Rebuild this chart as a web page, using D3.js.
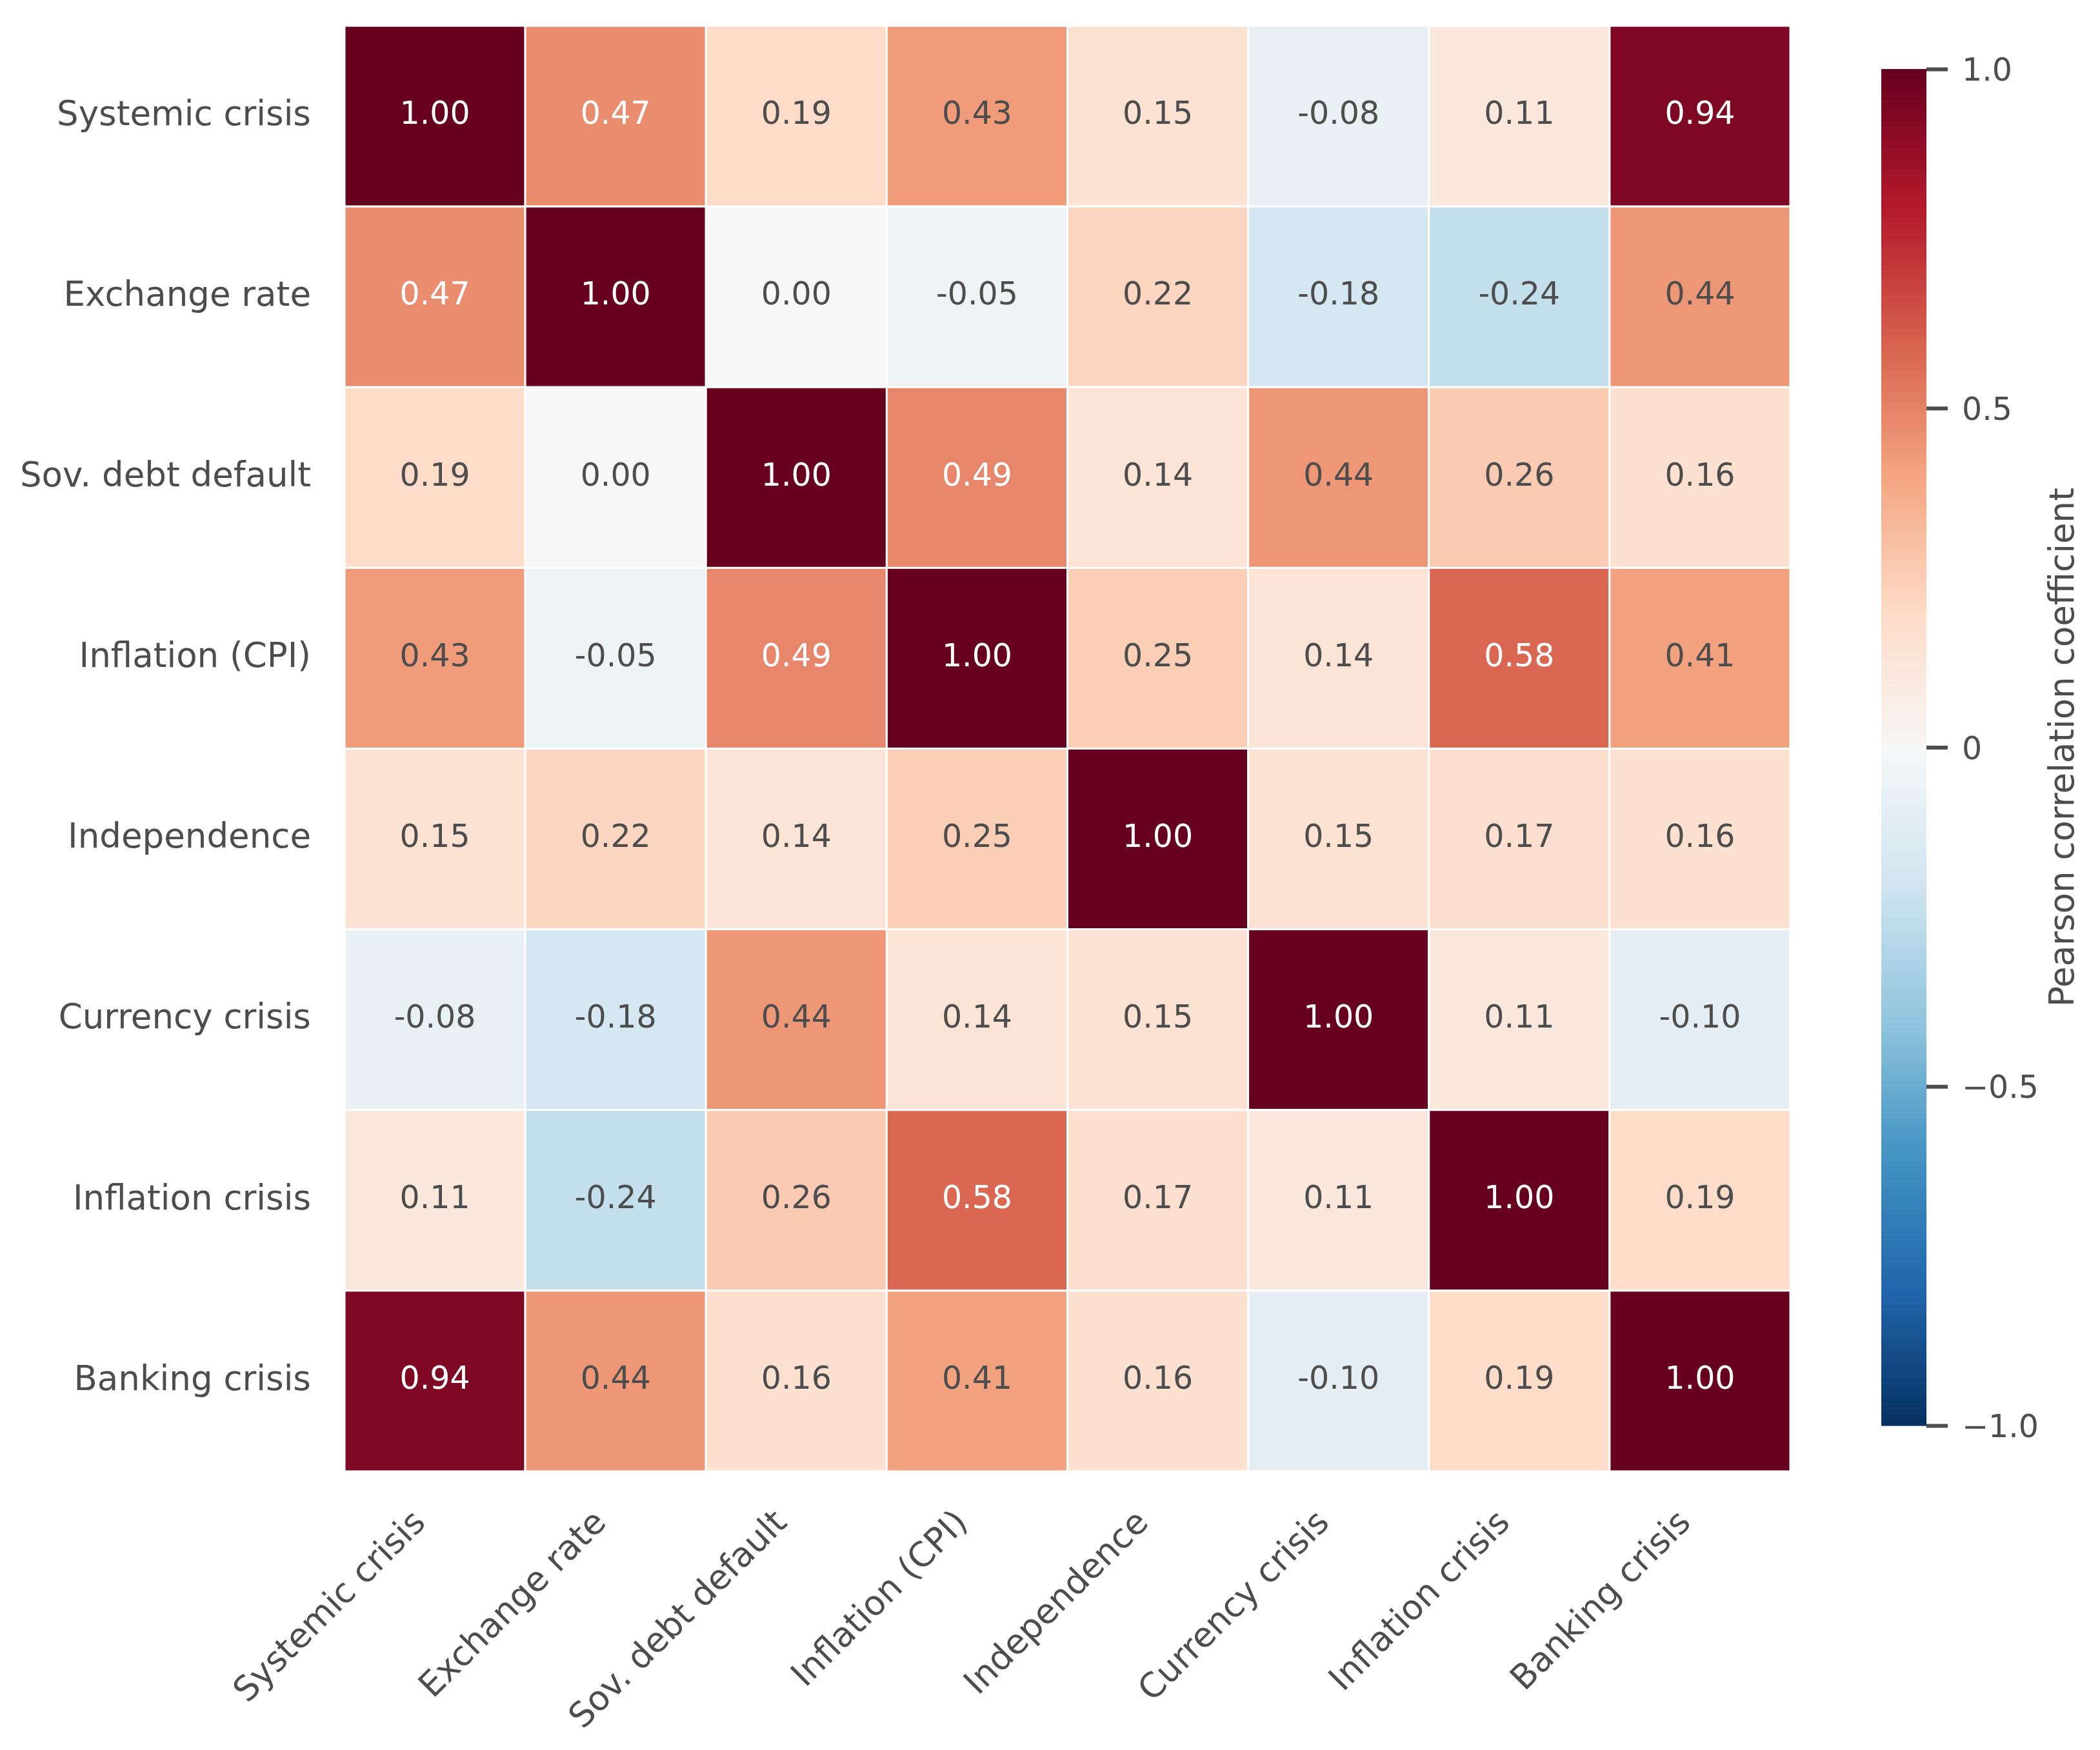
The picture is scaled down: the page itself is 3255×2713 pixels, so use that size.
<!DOCTYPE html>
<html>
<head>
<meta charset="utf-8">
<script src="https://cdn.jsdelivr.net/npm/d3@7"></script>
<style>
  body { margin: 0; background: #fff; }
  text { font-family: "DejaVu Sans", sans-serif; }
</style>
</head>
<body>
<div id="heatmap"></div>
<script>
// Variable names (same order on both axes)
var variables = ["Systemic crisis", "Exchange rate", "Sov. debt default", "Inflation (CPI)",
  "Independence", "Currency crisis", "Inflation crisis", "Banking crisis"];

// Correlation matrix rows
var rowSystemic   = [1.00, 0.47, 0.19, 0.43, 0.15, -0.08, 0.11, 0.94];
var rowExchange   = [0.47, 1.00, 0.00, -0.05, 0.22, -0.18, -0.24, 0.44];
var rowSovDebt    = [0.19, 0.00, 1.00, 0.49, 0.14, 0.44, 0.26, 0.16];
var rowInflCPI    = [0.43, -0.05, 0.49, 1.00, 0.25, 0.14, 0.58, 0.41];
var rowIndep      = [0.15, 0.22, 0.14, 0.25, 1.00, 0.15, 0.17, 0.16];
var rowCurrency   = [-0.08, -0.18, 0.44, 0.14, 0.15, 1.00, 0.11, -0.10];
var rowInflCrisis = [0.11, -0.24, 0.26, 0.58, 0.17, 0.11, 1.00, 0.19];
var rowBanking    = [0.94, 0.44, 0.16, 0.41, 0.16, -0.10, 0.19, 1.00];

var corrRows = [rowSystemic, rowExchange, rowSovDebt, rowInflCPI,
  rowIndep, rowCurrency, rowInflCrisis, rowBanking];

// Colorbar ticks
var cbarTicks = [-1, -0.5, 0, 0.5, 1];

// RdBu_r control colours (value 1 -> -1)
var rdbuColors = ["#67001f", "#b2182b", "#d6604d", "#f4a582", "#fddbc7", "#f7f7f7",
  "#d1e5f0", "#92c5de", "#4393c3", "#2166ac", "#053061"];

var svgWidth = 3255;
var svgHeight = 2713;
var textColor = "#4d4d4d";

var svg = d3.select("#heatmap")
  .append("svg")
  .attr("width", svgWidth)
  .attr("height", svgHeight);

// flatten the matrix into cells
var cells = [];
corrRows.forEach(function(row, i) {
  row.forEach(function(v, j) {
    cells.push({ row: variables[i], col: variables[j], value: v });
  });
});

var xScale = d3.scaleBand().domain(variables).range([534, 2775]);
var yScale = d3.scaleBand().domain(variables).range([40, 2281]);

var colorScale = d3.scaleLinear()
  .domain(d3.range(rdbuColors.length).map(function(k) { return 1 - 2 * k / (rdbuColors.length - 1); }))
  .range(rdbuColors)
  .interpolate(d3.interpolateRgb);

// seaborn style annotation colour
function luminance(c) {
  var rgb = d3.rgb(c);
  var ch = [rgb.r, rgb.g, rgb.b].map(function(x) {
    x = x / 255;
    return x <= 0.03928 ? x / 12.92 : Math.pow((x + 0.055) / 1.055, 2.4);
  });
  return 0.2126 * ch[0] + 0.7152 * ch[1] + 0.0722 * ch[2];
}

// cells
svg.append("g")
  .selectAll("rect")
  .data(cells)
  .enter()
  .append("rect")
  .attr("x", d => xScale(d.col))
  .attr("y", d => yScale(d.row))
  .attr("width", xScale.bandwidth())
  .attr("height", yScale.bandwidth())
  .attr("fill", d => colorScale(d.value))
  .attr("stroke", "#fff")
  .attr("stroke-width", 3);

// annotations (plain hyphen for negatives)
svg.append("g")
  .selectAll("text")
  .data(cells)
  .enter()
  .append("text")
  .attr("x", d => xScale(d.col) + xScale.bandwidth() / 2)
  .attr("y", d => yScale(d.row) + yScale.bandwidth() / 2)
  .attr("dy", "0.25em")
  .attr("text-anchor", "middle")
  .attr("font-size", "49px")
  .attr("fill", d => luminance(colorScale(d.value)) > 0.408 ? textColor : "#fff")
  .text(d => d.value.toFixed(2));

// y tick labels
svg.append("g")
  .selectAll("text")
  .data(variables)
  .enter()
  .append("text")
  .attr("x", 482)
  .attr("y", d => yScale(d) + yScale.bandwidth() / 2)
  .attr("dy", "0.26em")
  .attr("text-anchor", "end")
  .attr("font-size", "53px")
  .attr("fill", textColor)
  .text(d => d);

// x tick labels, rotated 45 degrees
svg.append("g")
  .selectAll("text")
  .data(variables)
  .enter()
  .append("text")
  .attr("transform", d => `translate(${xScale(d) + xScale.bandwidth() / 2 - 12}, 2363) rotate(-45)`)
  .attr("text-anchor", "end")
  .attr("font-size", "53px")
  .attr("fill", textColor)
  .text(d => d);

// colorbar
var cbarX = 2916;
var cbarW = 70;
var cbarScale = d3.scaleLinear().domain([-1, 1]).range([2210, 107]);
var nSteps = 256;
var steps = d3.range(nSteps).map(function(k) {
  return { lo: -1 + 2 * k / nSteps, hi: -1 + 2 * (k + 1) / nSteps };
});

var cbar = svg.append("g");
cbar.selectAll("rect")
  .data(steps)
  .enter()
  .append("rect")
  .attr("x", cbarX)
  .attr("y", d => cbarScale(d.hi))
  .attr("width", cbarW)
  .attr("height", d => cbarScale(d.lo) - cbarScale(d.hi) + 0.6)
  .attr("fill", d => colorScale((d.lo + d.hi) / 2));

var cbarAxis = d3.axisRight(cbarScale)
  .tickValues(cbarTicks)
  .tickSize(33)
  .tickPadding(22)
  .tickFormat(d => d === 0 ? "0" : d3.format(".1f")(d));

var cbarAxisG = svg.append("g")
  .attr("transform", `translate(${cbarX + cbarW}, 0)`)
  .call(cbarAxis);

cbarAxisG.select(".domain").remove();
cbarAxisG.selectAll(".tick line")
  .attr("stroke", textColor)
  .attr("stroke-width", 6);
cbarAxisG.selectAll(".tick text")
  .attr("fill", textColor)
  .attr("font-size", "49px")
  .attr("font-family", "DejaVu Sans")
  .attr("dy", "0.36em");

svg.append("text")
  .attr("transform", `translate(3214, ${cbarScale(0)}) rotate(-90)`)
  .attr("text-anchor", "middle")
  .attr("font-size", "53px")
  .attr("fill", textColor)
  .text("Pearson correlation coefficient");
</script>
</body>
</html>
